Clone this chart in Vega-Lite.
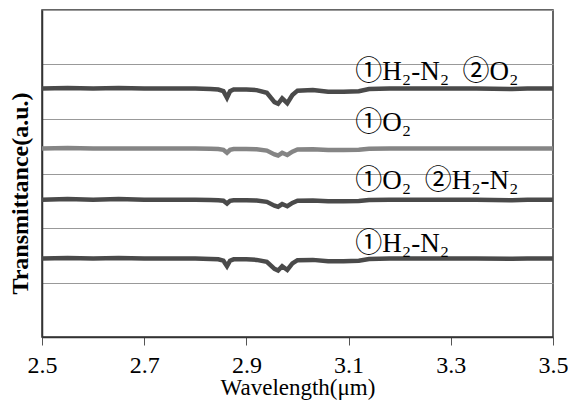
{
  "$schema": "https://vega.github.io/schema/vega-lite/v6.json",
  "autosize": {"type": "none"},
  "width": 511,
  "height": 327,
  "padding": {"left": 42, "top": 10, "right": 15, "bottom": 64},
  "config": {
    "view": {"stroke": "#333333", "strokeWidth": 1.5},
    "font": "Liberation Serif"
  },
  "datasets": {
    "spectra": [
      {"x": 2.5, "y": 4.56, "s": "a"}, {"x": 2.55, "y": 4.57, "s": "a"}, {"x": 2.6, "y": 4.56, "s": "a"}, {"x": 2.65, "y": 4.57, "s": "a"}, {"x": 2.7, "y": 4.56, "s": "a"}, {"x": 2.75, "y": 4.56, "s": "a"}, {"x": 2.8, "y": 4.56, "s": "a"}, {"x": 2.83, "y": 4.55, "s": "a"}, {"x": 2.845, "y": 4.54, "s": "a"}, {"x": 2.855, "y": 4.51, "s": "a"}, {"x": 2.862, "y": 4.39, "s": "a"}, {"x": 2.868, "y": 4.51, "s": "a"}, {"x": 2.875, "y": 4.54, "s": "a"}, {"x": 2.9, "y": 4.54, "s": "a"}, {"x": 2.92, "y": 4.53, "s": "a"}, {"x": 2.94, "y": 4.48, "s": "a"}, {"x": 2.955, "y": 4.31, "s": "a"}, {"x": 2.962, "y": 4.28, "s": "a"}, {"x": 2.97, "y": 4.38, "s": "a"}, {"x": 2.98, "y": 4.29, "s": "a"}, {"x": 2.99, "y": 4.44, "s": "a"}, {"x": 3.0, "y": 4.52, "s": "a"}, {"x": 3.03, "y": 4.53, "s": "a"}, {"x": 3.06, "y": 4.5, "s": "a"}, {"x": 3.09, "y": 4.5, "s": "a"}, {"x": 3.12, "y": 4.51, "s": "a"}, {"x": 3.14, "y": 4.55, "s": "a"}, {"x": 3.18, "y": 4.56, "s": "a"}, {"x": 3.25, "y": 4.56, "s": "a"}, {"x": 3.3, "y": 4.56, "s": "a"}, {"x": 3.35, "y": 4.56, "s": "a"}, {"x": 3.42, "y": 4.55, "s": "a"}, {"x": 3.45, "y": 4.56, "s": "a"}, {"x": 3.5, "y": 4.56, "s": "a"},

      {"x": 2.5, "y": 3.46, "s": "b"}, {"x": 2.55, "y": 3.47, "s": "b"}, {"x": 2.6, "y": 3.46, "s": "b"}, {"x": 2.65, "y": 3.46, "s": "b"}, {"x": 2.7, "y": 3.46, "s": "b"}, {"x": 2.75, "y": 3.46, "s": "b"}, {"x": 2.8, "y": 3.46, "s": "b"}, {"x": 2.83, "y": 3.455, "s": "b"}, {"x": 2.845, "y": 3.45, "s": "b"}, {"x": 2.855, "y": 3.435, "s": "b"}, {"x": 2.862, "y": 3.38, "s": "b"}, {"x": 2.868, "y": 3.435, "s": "b"}, {"x": 2.875, "y": 3.45, "s": "b"}, {"x": 2.9, "y": 3.45, "s": "b"}, {"x": 2.92, "y": 3.445, "s": "b"}, {"x": 2.94, "y": 3.42, "s": "b"}, {"x": 2.955, "y": 3.35, "s": "b"}, {"x": 2.962, "y": 3.33, "s": "b"}, {"x": 2.97, "y": 3.38, "s": "b"}, {"x": 2.98, "y": 3.34, "s": "b"}, {"x": 2.99, "y": 3.4, "s": "b"}, {"x": 3.0, "y": 3.44, "s": "b"}, {"x": 3.03, "y": 3.445, "s": "b"}, {"x": 3.06, "y": 3.43, "s": "b"}, {"x": 3.09, "y": 3.43, "s": "b"}, {"x": 3.12, "y": 3.435, "s": "b"}, {"x": 3.14, "y": 3.455, "s": "b"}, {"x": 3.18, "y": 3.46, "s": "b"}, {"x": 3.25, "y": 3.46, "s": "b"}, {"x": 3.3, "y": 3.46, "s": "b"}, {"x": 3.35, "y": 3.46, "s": "b"}, {"x": 3.42, "y": 3.46, "s": "b"}, {"x": 3.45, "y": 3.46, "s": "b"}, {"x": 3.5, "y": 3.46, "s": "b"},

      {"x": 2.5, "y": 2.52, "s": "c"}, {"x": 2.55, "y": 2.53, "s": "c"}, {"x": 2.6, "y": 2.52, "s": "c"}, {"x": 2.65, "y": 2.53, "s": "c"}, {"x": 2.7, "y": 2.52, "s": "c"}, {"x": 2.75, "y": 2.52, "s": "c"}, {"x": 2.8, "y": 2.52, "s": "c"}, {"x": 2.83, "y": 2.515, "s": "c"}, {"x": 2.845, "y": 2.51, "s": "c"}, {"x": 2.855, "y": 2.5, "s": "c"}, {"x": 2.862, "y": 2.45, "s": "c"}, {"x": 2.868, "y": 2.5, "s": "c"}, {"x": 2.875, "y": 2.51, "s": "c"}, {"x": 2.9, "y": 2.51, "s": "c"}, {"x": 2.92, "y": 2.505, "s": "c"}, {"x": 2.94, "y": 2.48, "s": "c"}, {"x": 2.955, "y": 2.41, "s": "c"}, {"x": 2.962, "y": 2.39, "s": "c"}, {"x": 2.97, "y": 2.44, "s": "c"}, {"x": 2.98, "y": 2.4, "s": "c"}, {"x": 2.99, "y": 2.46, "s": "c"}, {"x": 3.0, "y": 2.5, "s": "c"}, {"x": 3.03, "y": 2.505, "s": "c"}, {"x": 3.06, "y": 2.49, "s": "c"}, {"x": 3.09, "y": 2.49, "s": "c"}, {"x": 3.12, "y": 2.495, "s": "c"}, {"x": 3.14, "y": 2.515, "s": "c"}, {"x": 3.18, "y": 2.52, "s": "c"}, {"x": 3.25, "y": 2.52, "s": "c"}, {"x": 3.3, "y": 2.52, "s": "c"}, {"x": 3.35, "y": 2.52, "s": "c"}, {"x": 3.42, "y": 2.51, "s": "c"}, {"x": 3.45, "y": 2.52, "s": "c"}, {"x": 3.5, "y": 2.52, "s": "c"},

      {"x": 2.5, "y": 1.44, "s": "d"}, {"x": 2.55, "y": 1.45, "s": "d"}, {"x": 2.6, "y": 1.44, "s": "d"}, {"x": 2.65, "y": 1.45, "s": "d"}, {"x": 2.7, "y": 1.44, "s": "d"}, {"x": 2.75, "y": 1.44, "s": "d"}, {"x": 2.8, "y": 1.44, "s": "d"}, {"x": 2.83, "y": 1.43, "s": "d"}, {"x": 2.845, "y": 1.425, "s": "d"}, {"x": 2.855, "y": 1.4, "s": "d"}, {"x": 2.862, "y": 1.3, "s": "d"}, {"x": 2.868, "y": 1.4, "s": "d"}, {"x": 2.875, "y": 1.425, "s": "d"}, {"x": 2.9, "y": 1.425, "s": "d"}, {"x": 2.92, "y": 1.415, "s": "d"}, {"x": 2.94, "y": 1.38, "s": "d"}, {"x": 2.955, "y": 1.25, "s": "d"}, {"x": 2.962, "y": 1.22, "s": "d"}, {"x": 2.97, "y": 1.3, "s": "d"}, {"x": 2.98, "y": 1.23, "s": "d"}, {"x": 2.99, "y": 1.35, "s": "d"}, {"x": 3.0, "y": 1.41, "s": "d"}, {"x": 3.03, "y": 1.415, "s": "d"}, {"x": 3.06, "y": 1.39, "s": "d"}, {"x": 3.09, "y": 1.39, "s": "d"}, {"x": 3.12, "y": 1.4, "s": "d"}, {"x": 3.14, "y": 1.43, "s": "d"}, {"x": 3.18, "y": 1.44, "s": "d"}, {"x": 3.25, "y": 1.44, "s": "d"}, {"x": 3.3, "y": 1.44, "s": "d"}, {"x": 3.35, "y": 1.44, "s": "d"}, {"x": 3.42, "y": 1.435, "s": "d"}, {"x": 3.45, "y": 1.44, "s": "d"}, {"x": 3.5, "y": 1.44, "s": "d"}
    ],
    "labels": [
      {"x": 3.113, "y": 4.72, "label": "①H₂-N₂\u2002②O₂"},
      {"x": 3.113, "y": 3.78, "label": "①O₂"},
      {"x": 3.113, "y": 2.72, "label": "①O₂\u2002②H₂-N₂"},
      {"x": 3.113, "y": 1.56, "label": "①H₂-N₂"}
    ]
  },
  "layer": [
    {
      "data": {"name": "spectra"},
      "mark": {"type": "line", "strokeWidth": 4.5, "interpolate": "linear"},
      "encoding": {
        "x": {
          "field": "x", "type": "quantitative",
          "scale": {"domain": [2.5, 3.5], "nice": false, "zero": false},
          "axis": {
            "values": [2.5, 2.7, 2.9, 3.1, 3.3, 3.5],
            "format": ".1f",
            "title": "Wavelength(μm)",
            "titleFont": "Liberation Serif",
            "titleFontSize": 23,
            "titleFontWeight": "normal",
            "titleColor": "#000000",
            "titlePadding": -1,
            "labelFont": "Liberation Serif",
            "labelFontSize": 24,
            "labelColor": "#000000",
            "labelPadding": 8,
            "labelFlush": false,
            "grid": false,
            "tickSize": 8,
            "tickColor": "#555555",
            "domainColor": "#333333",
            "domainWidth": 1.5
          }
        },
        "y": {
          "field": "y", "type": "quantitative",
          "scale": {"domain": [0, 6], "nice": false},
          "axis": {
            "values": [0, 1, 2, 3, 4, 5, 6],
            "labels": false,
            "ticks": false,
            "grid": true,
            "gridColor": "#999999",
            "gridWidth": 1,
            "title": "Transmittance(a.u.)",
            "titleFont": "Liberation Serif",
            "titleFontSize": 24,
            "titleFontWeight": "bold",
            "titleColor": "#000000",
            "titlePadding": 10,
            "titleY": 183,
            "domainColor": "#333333",
            "domainWidth": 1.5
          }
        },
        "detail": {"field": "s"},
        "color": {
          "field": "s", "type": "nominal",
          "scale": {"domain": ["a", "b", "c", "d"], "range": ["#4a4a4a", "#858585", "#4a4a4a", "#4a4a4a"]},
          "legend": null
        }
      }
    },
    {
      "data": {"name": "labels"},
      "mark": {"type": "text", "align": "left", "baseline": "alphabetic", "font": "'Liberation Serif', 'Noto Sans CJK JP'", "fontSize": 27, "color": "#000000"},
      "encoding": {
        "x": {"field": "x", "type": "quantitative"},
        "y": {"field": "y", "type": "quantitative"},
        "text": {"field": "label"}
      }
    }
  ]
}
